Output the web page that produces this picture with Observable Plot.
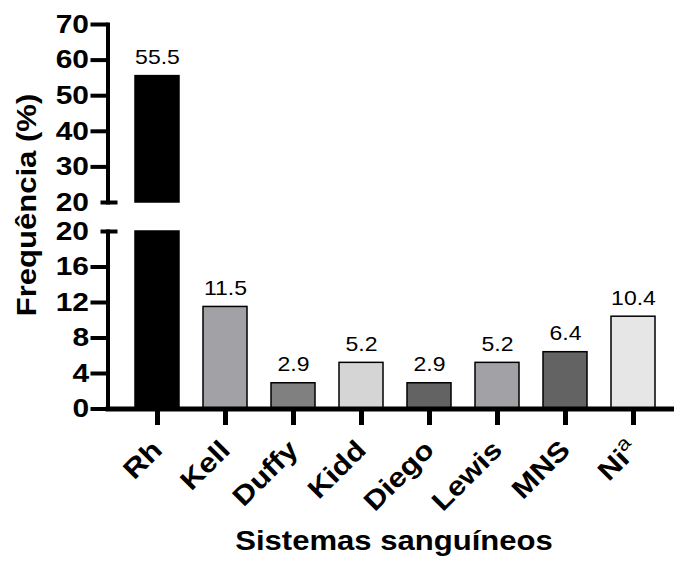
<!DOCTYPE html>
<html><head><meta charset="utf-8">
<script src="https://cdn.jsdelivr.net/npm/d3@7"></script>
<script src="https://cdn.jsdelivr.net/npm/@observablehq/plot@0.6"></script>
<style>
html,body{margin:0;padding:0;background:#fff;overflow:hidden}
#chart{position:relative;width:674px;height:563px;overflow:hidden;font-family:"Liberation Sans",Arial,sans-serif;color:#000}
#chart svg{position:absolute;left:0;top:0}
.ttl{position:absolute;font-weight:bold;white-space:nowrap;line-height:1;font-size:27px}
</style></head><body><div id="chart"></div>
<script>
// ---- data ----
const categories = ["Rh", "Kell", "Duffy", "Kidd", "Diego", "Lewis", "MNS", "Ni"];
const values = [55.5, 11.5, 2.9, 5.2, 2.9, 5.2, 6.4, 10.4];
const superscripts = {Ni: "a"};
const lowerTicks = [0, 4, 8, 12, 16];
const upperTicks = [30, 40, 50, 60, 70];
const breakValue = 20;
const yLabel = "Frequência (%)";
const xLabel = "Sistemas sanguíneos";
// ---- styles ----
const fills = ["#000000", "#a1a1a6", "#808080", "#d5d5d5", "#636363", "#a1a1a6", "#636363", "#e6e6e6"];

const data = categories.map((c, i) => ({cat: c, value: values[i]}));
const W = 690;
const font = "'Liberation Sans', Arial, sans-serif";
const common = {
  width: W, marginLeft: 107.5, marginRight: W - 683,
  x: {domain: categories, paddingInner: 0.35, paddingOuter: 0.35, label: null},
  color: {type: "ordinal", domain: categories, range: fills},
  style: {background: "transparent", maxWidth: "none", fontFamily: font, overflow: "visible"}
};
const fmt = d => d.value.toFixed(1);
const tickStyle = {fontSize: 26, fontWeight: "bold", label: null};

const bottomPlot = Plot.plot({
  ...common,
  height: 563, marginTop: 231, marginBottom: 154.5,
  y: {domain: [0, breakValue], label: null},
  marks: [
    Plot.barY(data, {x: "cat", y1: 0, y2: d => Math.min(d.value, breakValue), fill: "cat", stroke: "#000", strokeWidth: 1.5}),
    Plot.text(data.filter(d => d.value <= breakValue), {x: "cat", y: "value", text: fmt, lineAnchor: "bottom", dy: -12, fontSize: 20}),
    Plot.axisY(lowerTicks, {...tickStyle, tickSize: 17, strokeWidth: 4, tickPadding: 2}),
    Plot.axisY([breakValue], {tickSize: 17, dx: 10, strokeWidth: 4, tickFormat: () => "", label: null}),
    Plot.axisY([breakValue], {...tickStyle, tickSize: 0, tickPadding: 19}),
    Plot.axisX({fontSize: 27, fontWeight: "bold", label: null, tickSize: 16.5, strokeWidth: 5, tickRotate: -45, tickPadding: 20}),
    Plot.frame({anchor: "left", strokeWidth: 4}),
    Plot.frame({anchor: "bottom", strokeWidth: 5})
  ]
});

const topPlot = Plot.plot({
  ...common,
  x: {...common.x, axis: null},
  height: 210, marginTop: 24, marginBottom: 8,
  y: {domain: [breakValue, 70], label: null},
  marks: [
    Plot.barY(data.filter(d => d.value > breakValue), {x: "cat", y1: breakValue, y2: "value", fill: "cat", stroke: "#000", strokeWidth: 1.5}),
    Plot.text(data.filter(d => d.value > breakValue), {x: "cat", y: "value", text: fmt, lineAnchor: "bottom", dy: -12, fontSize: 20}),
    Plot.axisY(upperTicks, {...tickStyle, tickSize: 17, strokeWidth: 4, tickPadding: 2}),
    Plot.axisY([breakValue], {tickSize: 17, dx: 10, strokeWidth: 4, tickFormat: () => "", label: null}),
    Plot.axisY([breakValue], {...tickStyle, tickSize: 0, tickPadding: 19}),
    Plot.frame({anchor: "left", strokeWidth: 4})
  ]
});

const chart = document.getElementById("chart");
chart.appendChild(bottomPlot);
chart.appendChild(topPlot);

// superscript on category labels
bottomPlot.querySelectorAll("text").forEach(t => {
  const s = superscripts[t.textContent];
  if (s && t.children.length === 0) {
    const ts = document.createElementNS("http://www.w3.org/2000/svg", "tspan");
    ts.setAttribute("dy", "-0.55em");
    ts.setAttribute("font-size", "0.72em");
    ts.setAttribute("font-weight", "normal");
    ts.textContent = s;
    t.appendChild(ts);
  }
});

// widen glyphs along the text direction to match the reference's wide lettering
function stretch(svg, k) {
  svg.querySelectorAll("text").forEach(t => {
    const tr = t.getAttribute("transform");
    if (tr) {
      t.setAttribute("transform", tr + ` scale(${k},1)`);
    } else {
      const x = +(t.getAttribute("x") || 0), y = +(t.getAttribute("y") || 0);
      t.setAttribute("transform", `translate(${x},${y}) scale(${k},1) translate(${-x},${-y})`);
    }
  });
}
stretch(bottomPlot, 1.15);
stretch(topPlot, 1.15);

const yl = document.createElement("div");
yl.className = "ttl"; yl.textContent = yLabel;
yl.style.left = "27px"; yl.style.top = "205px";
yl.style.transform = "translate(-50%,-50%) rotate(-90deg) scaleX(1.15)";
chart.appendChild(yl);

const xl = document.createElement("div");
xl.className = "ttl"; xl.textContent = xLabel;
xl.style.left = "394px"; xl.style.top = "551px";
xl.style.transform = "translate(-50%,-22.9px) scaleX(1.15)";
chart.appendChild(xl);
</script></body></html>
